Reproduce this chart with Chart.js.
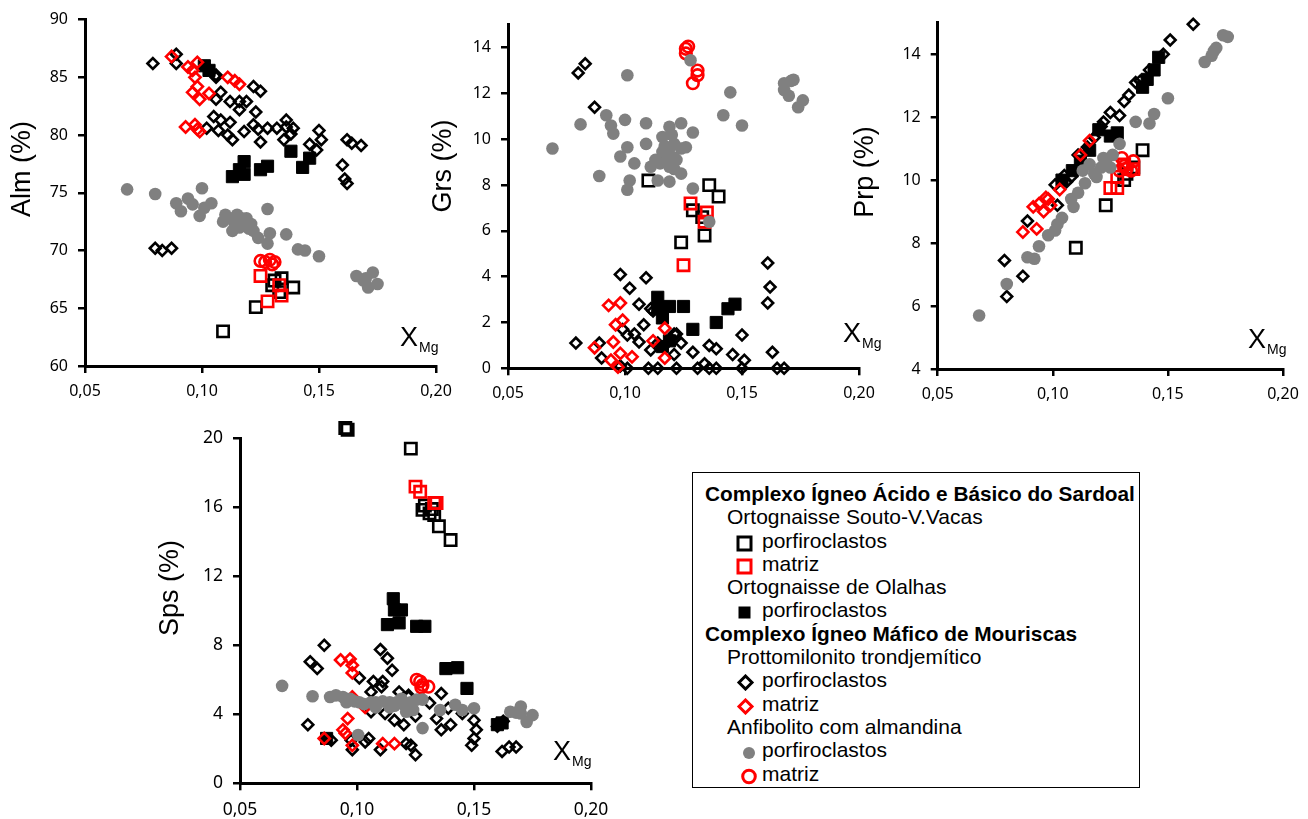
<!DOCTYPE html>
<html lang="pt">
<head>
  <meta charset="UTF-8" />
  <title>Granada - XMg</title>
  <script src="https://cdn.jsdelivr.net/npm/chart.js"></script>
  <style>
    body { margin: 0; background: #fff; }
    #page { position: relative; width: 1308px; height: 819px; overflow: hidden; }
    canvas { position: absolute; }
    #legend {
      position: absolute; left: 692px; top: 472px; width: 448px; height: 316px;
      box-sizing: border-box; border: 1.5px solid #000; padding-top: 9px;
      font-family: "Liberation Sans", Arial, sans-serif; color: #000;
    }
    #legend div { line-height: 23.3px; white-space: nowrap; }
    #legend .h { font-weight: bold; font-size: 20.8px; padding-left: 12px; }
    #legend .g { font-size: 21px; padding-left: 34px; }
    #legend .i { font-size: 21px; padding-left: 43px; }
    #legend svg { vertical-align: -4px; margin-right: 4px; }
  </style>
</head>
<body>
<div id="page">
  <canvas id="alm" width="470" height="410" style="left:0;top:0"></canvas>
  <canvas id="grs" width="465" height="410" style="left:425px;top:0"></canvas>
  <canvas id="prp" width="458" height="410" style="left:850px;top:0"></canvas>
  <canvas id="sps" width="470" height="409" style="left:150px;top:410px"></canvas>

  <div id="legend">
    <div class="h">Complexo Ígneo Ácido e Básico do Sardoal</div>
    <div class="g">Ortognaisse Souto-V.Vacas</div>
    <div class="i"><svg width="22" height="17"><rect x="2" y="2" width="13" height="13" fill="none" stroke="#000" stroke-width="3"/></svg>porfiroclastos</div>
    <div class="i"><svg width="22" height="17"><rect x="2" y="2" width="13" height="13" fill="none" stroke="#f00" stroke-width="3"/></svg>matriz</div>
    <div class="g">Ortognaisse de Olalhas</div>
    <div class="i"><svg width="22" height="17"><rect x="2.5" y="2.5" width="12" height="12" fill="#000"/></svg>porfiroclastos</div>
    <div class="h">Complexo Ígneo Máfico de Mouriscas</div>
    <div class="g">Prottomilonito trondjemítico</div>
    <div class="i"><svg width="22" height="17"><polygon points="9.5,2 16,8.5 9.5,15 3,8.5" fill="none" stroke="#000" stroke-width="3"/></svg>porfiroclastos</div>
    <div class="i"><svg width="22" height="17"><polygon points="9.5,2 16,8.5 9.5,15 3,8.5" fill="none" stroke="#f00" stroke-width="3"/></svg>matriz</div>
    <div class="g">Anfibolito com almandina</div>
    <div class="i"><svg width="22" height="17"><circle cx="13" cy="9" r="6" fill="#808080"/></svg>porfiroclastos</div>
    <div class="i"><svg width="22" height="17"><circle cx="13" cy="8.5" r="6.3" fill="none" stroke="#f00" stroke-width="3"/></svg>matriz</div>
  </div>
</div>

<script>
  // eixo X comum (XMg)
  const xTicks = [0.05, 0.10, 0.15, 0.20];

  // ---- Alm (%) ----
  const almTicks = [60, 65, 70, 75, 80, 85, 90];
  const almSoutoPorf = [[0.109,63.0],[0.123,65.1],[0.134,67.6],[0.139,66.8],[0.130,67.0],[0.133,66.4],[0.131,67.4]];
  const almSoutoMatr = [[0.125,67.8],[0.128,65.6],[0.133,67.0],[0.134,66.1]];
  const almOlalhas = [[0.101,86.0],[0.103,85.6],[0.118,77.7],[0.116,77.0],[0.113,76.4],[0.118,76.6],[0.125,77.0],[0.128,77.3],[0.138,78.6],[0.146,78.0],[0.143,77.2]];
  const almProtoPorf = [[0.079,86.2],[0.089,87.0],[0.089,86.2],[0.080,70.2],[0.083,70.0],[0.087,70.2],[0.102,85.9],[0.106,85.2],[0.106,85.0],[0.108,83.7],[0.106,83.1],[0.105,81.6],[0.108,81.3],[0.112,81.1],[0.107,80.4],[0.111,80.0],[0.113,79.6],[0.102,80.6],[0.112,82.9],[0.116,82.9],[0.116,82.2],[0.119,82.9],[0.123,82.0],[0.122,80.9],[0.124,80.5],[0.118,80.3],[0.125,79.4],[0.122,84.2],[0.125,83.8],[0.128,80.6],[0.132,80.6],[0.136,81.3],[0.136,80.7],[0.139,80.6],[0.135,79.6],[0.138,80.1],[0.146,79.2],[0.150,80.4],[0.151,79.6],[0.149,78.7],[0.160,77.4],[0.161,76.2],[0.162,75.8],[0.162,79.6],[0.164,79.3],[0.168,79.1]];
  const almProtoMatr = [[0.087,86.8],[0.094,85.9],[0.098,86.3],[0.096,85.6],[0.097,85.0],[0.096,83.7],[0.099,83.1],[0.098,84.2],[0.103,83.6],[0.111,85.0],[0.116,84.4],[0.114,84.7],[0.093,80.7],[0.097,80.9],[0.098,80.5],[0.099,80.3]];
  const almAnfPorf = [[0.068,75.3],[0.080,74.9],[0.089,74.1],[0.091,73.4],[0.094,74.5],[0.096,74.0],[0.099,73.0],[0.100,75.4],[0.104,74.1],[0.101,73.7],[0.110,73.1],[0.109,72.5],[0.113,71.7],[0.115,73.1],[0.118,72.5],[0.116,72.0],[0.121,72.3],[0.122,71.7],[0.124,71.1],[0.128,73.6],[0.128,70.6],[0.129,71.5],[0.136,71.4],[0.141,70.1],[0.144,70.0],[0.150,69.5],[0.166,67.8],[0.169,67.4],[0.171,66.8],[0.173,68.1],[0.175,67.1],[0.170,67.6],[0.119,72.8],[0.112,72.8],[0.114,72.3],[0.120,71.9],[0.117,72.8]];
  const almAnfMatr = [[0.125,69.1],[0.127,69.0],[0.129,69.2],[0.131,69.0],[0.130,68.8]];

  // ---- Grs (%) ----
  const grsTicks = [0, 2, 4, 6, 8, 10, 12, 14];
  const grsSoutoPorf = [[0.110,8.2],[0.136,8.0],[0.140,7.5],[0.124,5.5],[0.134,5.8],[0.129,6.9],[0.133,6.6]];
  const grsSoutoMatr = [[0.128,7.2],[0.135,6.8],[0.134,6.4],[0.125,4.5]];
  const grsOlalhas = [[0.114,3.1],[0.114,2.6],[0.119,2.7],[0.125,2.7],[0.116,2.2],[0.129,1.7],[0.139,2.0],[0.144,2.6],[0.147,2.8],[0.119,1.2],[0.116,0.95]];
  const grsProtoPorf = [[0.080,12.9],[0.083,13.3],[0.087,11.4],[0.098,4.1],[0.109,3.95],[0.102,3.5],[0.106,2.8],[0.111,2.6],[0.079,1.1],[0.089,1.1],[0.090,0.45],[0.099,1.7],[0.101,1.45],[0.104,1.5],[0.106,1.15],[0.108,1.9],[0.111,0.8],[0.114,1.1],[0.118,1.1],[0.121,0.6],[0.122,1.5],[0.124,1.1],[0.129,0.7],[0.136,1.0],[0.139,0.85],[0.146,0.6],[0.150,1.45],[0.151,0.35],[0.161,4.6],[0.162,3.55],[0.161,2.85],[0.163,0.7],[0.110,0],[0.114,0],[0.122,0],[0.131,0],[0.136,0],[0.139,0],[0.150,0],[0.165,0],[0.168,0],[0.134,0.2],[0.098,0.1],[0.101,0],[0.121,1.5],[0.112,2.5]];
  const grsProtoMatr = [[0.093,2.75],[0.098,2.85],[0.096,1.9],[0.099,2.1],[0.087,0.9],[0.095,1.15],[0.094,0.35],[0.098,0.65],[0.103,0.5],[0.097,0.05],[0.112,1.2],[0.117,1.75],[0.117,0.45]];
  const grsAnfPorf = [[0.069,9.6],[0.081,10.65],[0.089,8.4],[0.092,11.05],[0.094,10.6],[0.095,10.25],[0.100,10.85],[0.101,9.65],[0.101,12.8],[0.098,9.25],[0.104,8.95],[0.102,8.2],[0.101,7.8],[0.109,10.7],[0.109,9.8],[0.111,8.8],[0.114,8.2],[0.116,10.1],[0.119,10.55],[0.121,9.8],[0.124,10.7],[0.126,9.65],[0.129,10.3],[0.118,9.25],[0.119,8.8],[0.122,9.1],[0.124,8.5],[0.119,8.15],[0.115,8.95],[0.116,9.45],[0.121,9.2],[0.121,8.7],[0.124,9.6],[0.119,9.6],[0.129,7.85],[0.136,6.4],[0.145,12.05],[0.142,11.05],[0.150,10.6],[0.168,12.45],[0.171,12.55],[0.168,12.15],[0.170,11.9],[0.174,11.4],[0.176,11.7],[0.172,12.6],[0.128,13.45],[0.117,9.7],[0.120,10.2],[0.113,9.1]];
  const grsAnfMatr = [[0.126,13.95],[0.126,13.75],[0.131,13.0],[0.131,12.8],[0.129,12.45],[0.127,14.05]];

  // ---- Prp (%) ----
  const prpTicks = [4, 6, 8, 10, 12, 14];
  const prpSoutoPorf = [[0.139,10.95],[0.123,9.2],[0.110,7.85],[0.131,10.0],[0.135,10.4],[0.132,10.2]];
  const prpSoutoMatr = [[0.125,9.75],[0.128,9.75],[0.131,10.5],[0.135,10.35],[0.128,10.1]];
  const prpOlalhas = [[0.139,12.95],[0.144,13.5],[0.146,13.9],[0.128,11.5],[0.125,11.4],[0.116,10.95],[0.1085,10.3],[0.141,13.2],[0.120,11.6],[0.112,10.6],[0.104,10.0]];
  const prpProtoPorf = [[0.161,14.95],[0.151,14.45],[0.148,14.0],[0.138,13.15],[0.136,13.1],[0.131,12.5],[0.129,12.05],[0.125,12.15],[0.122,11.85],[0.111,10.8],[0.105,10.15],[0.101,9.85],[0.102,9.2],[0.089,8.7],[0.079,7.45],[0.087,6.95],[0.080,6.3],[0.108,10.1],[0.106,9.95],[0.118,11.35],[0.115,11.05],[0.121,11.7],[0.142,13.5],[0.133,12.7]];
  const prpProtoMatr = [[0.087,8.35],[0.093,8.45],[0.0915,9.15],[0.094,9.25],[0.097,9.45],[0.096,9.0],[0.099,9.2],[0.103,9.7],[0.112,10.8],[0.116,11.25],[0.098,9.4]];
  const prpAnfPorf = [[0.068,5.7],[0.080,6.7],[0.089,7.55],[0.092,7.5],[0.094,7.9],[0.098,8.25],[0.102,8.6],[0.104,8.8],[0.109,9.15],[0.111,9.6],[0.114,9.9],[0.118,10.2],[0.121,10.4],[0.123,10.6],[0.126,10.8],[0.129,11.15],[0.113,10.3],[0.116,10.5],[0.119,10.1],[0.122,10.7],[0.125,10.4],[0.136,11.85],[0.142,11.8],[0.144,12.1],[0.150,12.6],[0.166,13.75],[0.169,13.95],[0.171,14.2],[0.174,14.6],[0.176,14.55],[0.170,14.1],[0.108,9.4],[0.101,8.4]];
  const prpAnfMatr = [[0.131,10.45],[0.134,10.3],[0.132,10.35],[0.135,10.6],[0.129,10.3],[0.130,10.7]];

  // ---- Sps (%) ----
  const spsTicks = [0, 4, 8, 12, 16, 20];
  const spsSoutoPorf = [[0.096,20.5],[0.095,20.6],[0.123,19.4],[0.128,15.85],[0.131,15.65],[0.133,15.55],[0.135,14.9],[0.140,14.1],[0.129,16.1],[0.132,15.9]];
  const spsSoutoMatr = [[0.125,17.2],[0.127,16.9],[0.133,16.25],[0.134,16.25]];
  const spsOlalhas = [[0.1155,10.7],[0.116,10.05],[0.119,10.05],[0.113,9.2],[0.118,9.3],[0.1255,9.1],[0.129,9.1],[0.138,6.65],[0.143,6.7],[0.147,5.5],[0.160,3.4],[0.162,3.5],[0.087,2.6]];
  const spsProtoPorf = [[0.086,8.0],[0.080,7.05],[0.083,6.65],[0.079,3.4],[0.089,2.5],[0.098,1.95],[0.101,6.1],[0.106,5.3],[0.107,5.9],[0.111,5.9],[0.110,7.75],[0.113,7.25],[0.115,6.55],[0.1105,5.6],[0.106,4.15],[0.112,4.05],[0.116,3.65],[0.120,3.4],[0.118,5.3],[0.122,5.0],[0.125,3.9],[0.105,2.6],[0.110,1.95],[0.121,2.3],[0.125,1.65],[0.123,2.2],[0.131,4.65],[0.136,5.2],[0.134,3.75],[0.136,3.1],[0.140,3.4],[0.139,4.35],[0.145,4.05],[0.150,3.65],[0.151,3.1],[0.150,2.6],[0.149,2.2],[0.160,3.3],[0.162,1.85],[0.165,2.1],[0.168,2.1],[0.1625,3.6],[0.122,5.1],[0.0975,2.5],[0.1035,2.4]];
  const spsProtoMatr = [[0.093,7.15],[0.097,7.2],[0.098,6.85],[0.098,6.4],[0.096,3.75],[0.094,3.1],[0.095,2.9],[0.086,2.6],[0.098,2.2],[0.111,2.3],[0.116,2.3],[0.098,5.0],[0.1035,4.4]];
  const spsAnfPorf = [[0.068,5.65],[0.081,5.05],[0.0885,5.0],[0.091,5.1],[0.094,5.0],[0.097,4.9],[0.099,4.75],[0.101,4.7],[0.103,4.6],[0.106,4.7],[0.108,4.7],[0.111,4.75],[0.114,4.7],[0.117,4.7],[0.120,4.55],[0.123,4.7],[0.1255,4.85],[0.128,4.85],[0.124,4.25],[0.121,4.15],[0.114,4.4],[0.108,4.4],[0.0955,4.7],[0.1005,2.8],[0.128,3.2],[0.1355,4.25],[0.142,4.55],[0.145,4.25],[0.150,4.35],[0.1655,4.15],[0.170,4.45],[0.170,4.05],[0.1725,3.55],[0.175,3.95],[0.168,4.1],[0.116,4.5],[0.119,4.9]];
  const spsAnfMatr = [[0.1255,6.0],[0.127,5.9],[0.128,5.7],[0.1305,5.6],[0.1275,5.55]];

  // estilos dos simbolos
  const CLEAR = 'rgba(0,0,0,0)';
  const st = {
    anfPorf:    { style: 'circle',  r: 6.3, w: 0,   line: '#808080', fill: '#808080' },
    anfMatr:    { style: 'circle',  r: 5.8, w: 2.6, line: '#ff0000', fill: CLEAR },
    protoMatr:  { style: 'rectRot', r: 5.6, w: 2.6, line: '#ff0000', fill: CLEAR },
    protoPorf:  { style: 'rectRot', r: 5.4, w: 2.6, line: '#000',    fill: CLEAR },
    olalhas:    { style: 'rect',    r: 8.6, w: 1,   line: '#000',    fill: '#000' },
    soutoMatr:  { style: 'rect',    r: 8,   w: 2.6, line: '#ff0000', fill: CLEAR },
    soutoPorf:  { style: 'rect',    r: 8,   w: 2.6, line: '#000',    fill: CLEAR }
  };

  function ds(points, s) {
    return {
      data: points.map(p => ({ x: p[0], y: p[1] })),
      showLine: false,
      clip: false,
      pointStyle: s.style,
      pointRadius: s.r,
      pointBorderWidth: s.w,
      pointBorderColor: s.line,
      pointBackgroundColor: s.fill
    };
  }

  // titulos dos eixos e "XMg"
  const panelText = {
    id: 'panelText',
    afterDraw(chart, args, o) {
      const ctx = chart.ctx;
      ctx.save();
      ctx.fillStyle = '#000';
      ctx.font = '27px "Liberation Sans", Arial, sans-serif';
      ctx.textAlign = 'center';
      ctx.textBaseline = 'middle';
      ctx.translate(o.tx, o.ty);
      ctx.rotate(-Math.PI / 2);
      ctx.fillText(o.title, 0, 0);
      ctx.restore();

      ctx.save();
      ctx.fillStyle = '#000';
      ctx.textAlign = 'left';
      ctx.textBaseline = 'alphabetic';
      ctx.font = '27px "Liberation Sans", Arial, sans-serif';
      ctx.fillText('X', o.mx, o.my);
      const w = ctx.measureText('X').width;
      ctx.font = '14px "Liberation Sans", Arial, sans-serif';
      ctx.fillText('Mg', o.mx + w + 1, o.my + 6);
      ctx.restore();
    }
  };

  // p: posicao do canvas na pagina, area: caixa do grafico na pagina
  function makePanel(id, p, area, yMin, yMax, yTicks, sets, title, tpos, mpos, fontSize) {
    const tickFont = { family: '"Noto Sans", sans-serif', size: fontSize };
    const grid = { display: true, drawOnChartArea: false, drawTicks: true, tickLength: 7, color: '#000', lineWidth: 2.5 };
    const border = { display: true, color: '#000', width: 3 };
    new Chart(document.getElementById(id), {
      type: 'scatter',
      data: { datasets: sets },
      options: {
        responsive: false,
        animation: false,
        events: [],
        layout: { padding: { left: 0, top: area.top - p.y, right: p.x + p.w - area.right, bottom: 0 } },
        plugins: {
          legend: { display: false },
          tooltip: { enabled: false },
          panelText: { title: title, tx: tpos[0] - p.x, ty: tpos[1] - p.y, mx: mpos[0] - p.x, my: mpos[1] - p.y }
        },
        scales: {
          x: {
            type: 'linear', min: 0.05, max: 0.20,
            afterBuildTicks: s => { s.ticks = xTicks.map(v => ({ value: v })); },
            afterFit: s => { s.height = p.y + p.h - area.bottom; },
            ticks: { font: tickFont, color: '#000', padding: 9, callback: v => v.toFixed(2).replace('.', ',') },
            grid: grid, border: border
          },
          y: {
            type: 'linear', min: yMin, max: yMax,
            afterBuildTicks: s => { s.ticks = yTicks.map(v => ({ value: v })); },
            afterFit: s => { s.width = area.left - p.x; },
            ticks: { font: tickFont, color: '#000', padding: 10, callback: v => String(v) },
            grid: grid, border: border
          }
        }
      },
      plugins: [panelText]
    });
  }

  function sets(anfPorf, anfMatr, protoMatr, protoPorf, olalhas, soutoMatr, soutoPorf) {
    return [
      ds(anfPorf, st.anfPorf), ds(anfMatr, st.anfMatr), ds(protoMatr, st.protoMatr),
      ds(protoPorf, st.protoPorf), ds(olalhas, st.olalhas), ds(soutoMatr, st.soutoMatr),
      ds(soutoPorf, st.soutoPorf)
    ];
  }

  makePanel('alm', { x: 0, y: 0, w: 470, h: 410 }, { left: 85, top: 17, right: 436, bottom: 366 },
    60, 90, almTicks,
    sets(almAnfPorf, almAnfMatr, almProtoMatr, almProtoPorf, almOlalhas, almSoutoMatr, almSoutoPorf),
    'Alm (%)', [23, 169], [400, 346], 16);

  makePanel('grs', { x: 425, y: 0, w: 465, h: 410 }, { left: 508, top: 24.8, right: 859, bottom: 368.3 },
    0, 15, grsTicks,
    sets(grsAnfPorf, grsAnfMatr, grsProtoMatr, grsProtoPorf, grsOlalhas, grsSoutoMatr, grsSoutoPorf),
    'Grs (%)', [444, 166], [843, 342], 16);

  makePanel('prp', { x: 850, y: 0, w: 458, h: 410 }, { left: 937.7, top: 22.7, right: 1283, bottom: 369 },
    4, 15, prpTicks,
    sets(prpAnfPorf, prpAnfMatr, prpProtoMatr, prpProtoPorf, prpOlalhas, prpSoutoMatr, prpSoutoPorf),
    'Prp (%)', [866, 172], [1248, 348], 16);

  makePanel('sps', { x: 150, y: 410, w: 470, h: 409 }, { left: 240, top: 438.3, right: 591, bottom: 783.3 },
    0, 20, spsTicks,
    sets(spsAnfPorf, spsAnfMatr, spsProtoMatr, spsProtoPorf, spsOlalhas, spsSoutoMatr, spsSoutoPorf),
    'Sps (%)', [171, 588], [553, 760], 17.5);
</script>
</body>
</html>
